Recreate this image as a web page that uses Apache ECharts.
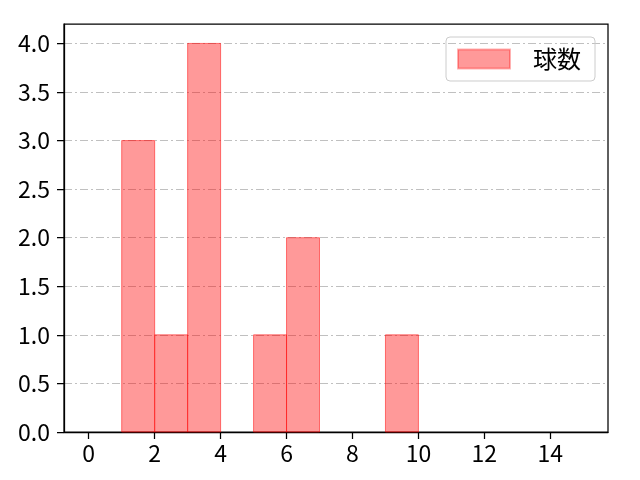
<!DOCTYPE html>
<html lang="ja">
<head>
    <meta charset="UTF-8">
    <title>球数</title>
    <script src="https://cdn.jsdelivr.net/npm/echarts@6/dist/echarts.min.js"></script>
</head>
<body style="margin:0">
    <div id="main" style="width: 640px; height:480px"></div>
    <script>
        var binStarts = [1, 2, 3, 5, 6, 9]
        var binEnds = [2, 3, 4, 6, 7, 10]
        var counts = [3, 1, 4, 1, 2, 1]

        var xTicks = [0, 2, 4, 6, 8, 10, 12, 14]
        var yTicks = [0, 0.5, 1, 1.5, 2, 2.5, 3, 3.5, 4]

        var font = '"Noto Sans CJK JP", "Noto Sans", sans-serif'

        var barData = binStarts.map(function (s, i) {
            return [s, binEnds[i], counts[i]]
        })

        var myEcharts = echarts.init(document.getElementById('main'))

        var option = {
            animation: false,
            grid: {
                left: 64, right: 32, top: 24, bottom: 48,
                show: true, borderColor: '#000', borderWidth: 1.25,
                backgroundColor: '#fff'
            },
            legend: {
                right: 45, top: 37,
                data: ['球数'],
                icon: 'rect',
                itemWidth: 52, itemHeight: 19,
                padding: [10, 14, 10, 11],
                borderColor: '#cccccc', borderWidth: 1, borderRadius: 4,
                textStyle: { fontFamily: font, fontSize: 24, color: '#000', padding: [0, 0, 0, 18] }
            },
            xAxis: {
                type: 'value',
                min: -0.75, max: 15.75,
                axisLine: { show: true, onZero: false, lineStyle: { color: '#000', width: 1.25 } },
                axisTick: { show: true, length: 7, customValues: xTicks, lineStyle: { color: '#000', width: 1.25 } },
                axisLabel: { customValues: xTicks, fontFamily: font, fontSize: 23, color: '#000', margin: 10 },
                splitLine: { show: false }
            },
            yAxis: {
                type: 'value',
                min: 0, max: 4.2, interval: 0.5,
                axisLine: { show: true, onZero: false, lineStyle: { color: '#000', width: 1.25 } },
                axisTick: { show: true, length: 7, customValues: yTicks, lineStyle: { color: '#000', width: 1.25 } },
                axisLabel: {
                    customValues: yTicks, fontFamily: font, fontSize: 23, color: '#000', margin: 14,
                    formatter: function (v) { return v.toFixed(1) }
                },
                splitLine: { show: true, lineStyle: { color: '#b0b0b0', width: 0.8, type: [8, 3, 2, 3] } }
            },
            series: [
                {
                    name: '球数',
                    type: 'custom',
                    itemStyle: { color: 'rgba(255,0,0,0.4)', borderColor: 'rgba(255,0,0,0.3)', borderWidth: 1 },
                    encode: { x: [0, 1], y: 2 },
                    data: barData,
                    renderItem: function (params, api) {
                        var p0 = api.coord([api.value(0), 0])
                        var p1 = api.coord([api.value(1), api.value(2)])
                        return {
                            type: 'rect',
                            shape: { x: p0[0], y: p1[1], width: p1[0] - p0[0], height: p0[1] - p1[1] },
                            style: { fill: 'rgba(255,0,0,0.4)', stroke: 'rgba(255,0,0,0.5)', lineWidth: 1 }
                        }
                    }
                }
            ]
        }

        myEcharts.setOption(option)
    </script>
</body>
</html>
